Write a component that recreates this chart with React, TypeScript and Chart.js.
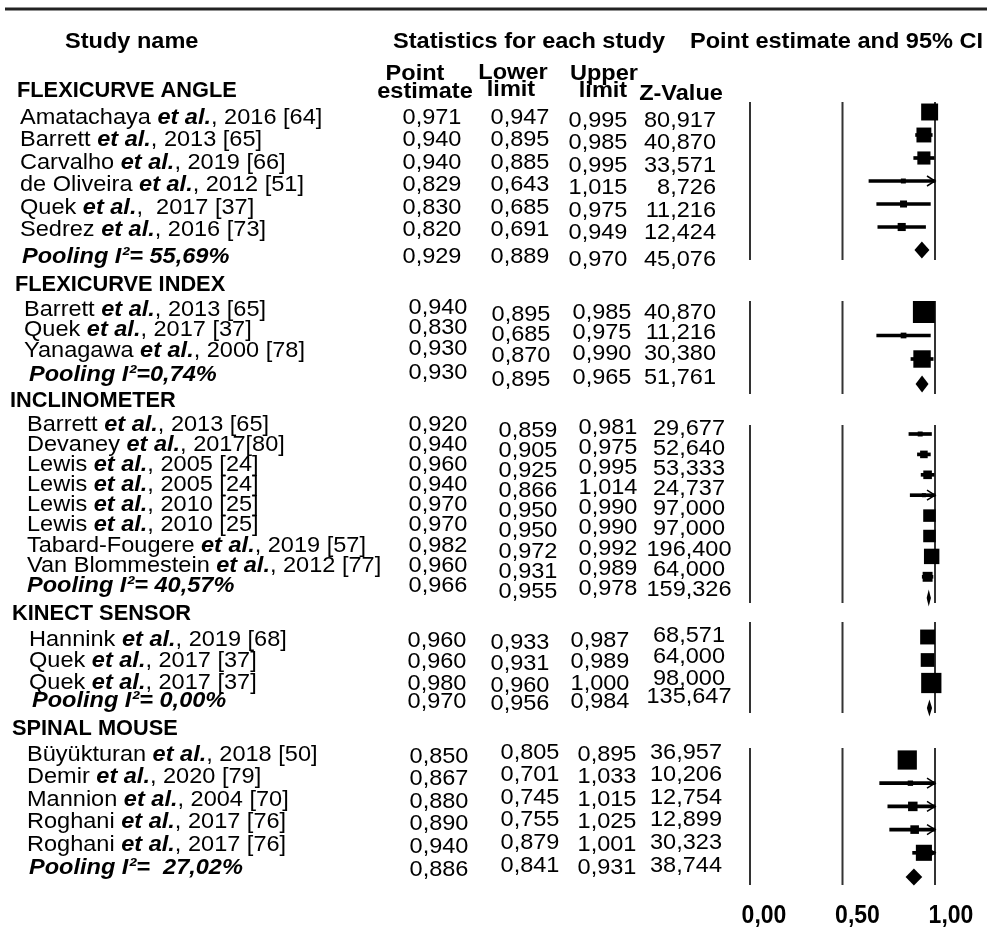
import React, { useEffect, useRef } from "react";
import { Chart, registerables } from "chart.js";
Chart.register(...registerables);

// ---------------- data ----------------
const GROUP_NAMES = ["FLEXICURVE ANGLE", "FLEXICURVE INDEX", "INCLINOMETER", "KINECT SENSOR", "SPINAL MOUSE"];
const STUDY_GROUP = [0, 0, 0, 0, 0, 0, 1, 1, 1, 2, 2, 2, 2, 2, 2, 2, 2, 3, 3, 3, 4, 4, 4, 4, 4];
const STUDY_AUTHOR = [
  "Amatachaya", "Barrett", "Carvalho", "de Oliveira", "Quek", "Sedrez",
  "Barrett", "Quek", "Yanagawa",
  "Barrett", "Devaney", "Lewis", "Lewis", "Lewis", "Lewis", "Tabard-Fougere", "Van Blommestein",
  "Hannink", "Quek", "Quek",
  "Büyükturan", "Demir", "Mannion", "Roghani", "Roghani",
];
const STUDY_CITE = [
  ", 2016 [64]", ", 2013 [65]", ", 2019 [66]", ", 2012 [51]", ",  2017 [37]", ", 2016 [73]",
  ", 2013 [65]", ", 2017 [37]", ", 2000 [78]",
  ", 2013 [65]", ", 2017[80]", ", 2005 [24]", ", 2005 [24]", ", 2010 [25]", ", 2010 [25]", ", 2019 [57]", ", 2012 [77]",
  ", 2019 [68]", ", 2017 [37]", ", 2017 [37]",
  ", 2018 [50]", ", 2020 [79]", ", 2004 [70]", ", 2017 [76]", ", 2017 [76]",
];
const POINT_EST = [0.971, 0.94, 0.94, 0.829, 0.83, 0.82, 0.94, 0.83, 0.93, 0.92, 0.94, 0.96, 0.94, 0.97, 0.97, 0.982, 0.96, 0.96, 0.96, 0.98, 0.85, 0.867, 0.88, 0.89, 0.94];
const LOWER = [0.947, 0.895, 0.885, 0.643, 0.685, 0.691, 0.895, 0.685, 0.87, 0.859, 0.905, 0.925, 0.866, 0.95, 0.95, 0.972, 0.931, 0.933, 0.931, 0.96, 0.805, 0.701, 0.745, 0.755, 0.879];
const UPPER = [0.995, 0.985, 0.995, 1.015, 0.975, 0.949, 0.985, 0.975, 0.99, 0.981, 0.975, 0.995, 1.014, 0.99, 0.99, 0.992, 0.989, 0.987, 0.989, 1.0, 0.895, 1.033, 1.015, 1.025, 1.001];
const Z_VALUE = [80.917, 40.87, 33.571, 8.726, 11.216, 12.424, 40.87, 11.216, 30.38, 29.677, 52.64, 53.333, 24.737, 97.0, 97.0, 196.4, 64.0, 68.571, 64.0, 98.0, 36.957, 10.206, 12.754, 12.899, 30.323];
// relative weights (%)
const WEIGHT = [35, 27, 21, 3, 6, 8, 59, 4, 37, 3, 7, 9, 2, 19, 19, 29, 12, 27, 23, 50, 45, 3.5, 11, 9, 31.5];

const POOLED_LABEL = ["Pooling I²= 55,69%", "Pooling I²=0,74%", "Pooling I²= 40,57%", "Pooling I²= 0,00%", "Pooling I²=  27,02%"];
const POOLED_EST = [0.929, 0.93, 0.966, 0.97, 0.886];
const POOLED_LOWER = [0.889, 0.895, 0.955, 0.956, 0.841];
const POOLED_UPPER = [0.97, 0.965, 0.978, 0.984, 0.931];
const POOLED_Z = [45.076, 51.761, 159.326, 135.647, 38.744];

const X_TICKS = [0, 0.5, 1];
const X_TICK_LABELS = ["0,00", "0,50", "1,00"];
const REF_LINES = [0, 0.5, 1];
const X_CLIP = 1;

// ---------------- layout (positions / styles) ----------------
const W = 987;
const H = 929;
const FONT = '"Liberation Sans", Arial, Helvetica, sans-serif';
const PLOT_ZERO_PX = 750;
const PLOT_UNIT_PX = 185;
const LAB_ZERO_PX = 764;
const LAB_UNIT_PX = 187;
const TICK_Y = 913;
const BOX_K = 2.865;
const DIAMOND_H = 17;

const GROUP_LAYOUT = [
  { headX: 17, headY: 89, nameX: 20, poolX: 22, textY0: 116, textStep: 22.4, poolTextY: 255,
    markY0: 112, markStep: 23, poolMarkY: 250, lineTop: 102, lineBottom: 260,
    colX: [432, 520, 598, 716], colAlign: ["center", "center", "center", "right"], colDy: [0, 0, 3, 3] },
  { headX: 15, headY: 283, nameX: 24, poolX: 29, textY0: 308, textStep: 20.5, poolTextY: 373,
    markY0: 312, markStep: 23.5, poolMarkY: 384, lineTop: 301, lineBottom: 394,
    colX: [438, 521, 602, 716], colAlign: ["center", "center", "center", "right"], colDy: [-2, 5, 3, 3] },
  { headX: 10, headY: 399, nameX: 27, poolX: 27, textY0: 423, textStep: 20.1, poolTextY: 584,
    markY0: 434, markStep: 20.4, poolMarkY: 598, lineTop: 425, lineBottom: 603,
    colX: [438, 528, 608, 689], colAlign: ["center", "center", "center", "center"], colDy: [0, 6, 3, 4] },
  { headX: 12, headY: 612, nameX: 29, poolX: 32, textY0: 638, textStep: 21.5, poolTextY: 699,
    markY0: 637, markStep: 23, poolMarkY: 708, lineTop: 622, lineBottom: 713,
    colX: [437, 520, 600, 689], colAlign: ["center", "center", "center", "center"], colDy: [1, 3, 1, -4] },
  { headX: 12, headY: 727, nameX: 27, poolX: 29, textY0: 753, textStep: 22.5, poolTextY: 866,
    markY0: 760, markStep: 23.2, poolMarkY: 877, lineTop: 748, lineBottom: 885,
    colX: [439, 530, 607, 722], colAlign: ["center", "center", "center", "right"], colDy: [2, -2, 0, -2] },
];

type TStyle = { size: number; weight: string; italic?: boolean; sx: number; sy: number };
const ST_HEAD: TStyle = { size: 22, weight: "bold", sx: 1.07, sy: 1 };
const ST_GROUP: TStyle = { size: 22, weight: "bold", sx: 0.99, sy: 1 };
const ST_BODY: TStyle = { size: 22, weight: "normal", sx: 1.07, sy: 1 };
const ST_ETAL: TStyle = { size: 22, weight: "bold", italic: true, sx: 1.07, sy: 1 };
const ST_AXIS: TStyle = { size: 23, weight: "bold", sx: 1, sy: 1.15 };

const HEADER_TEXTS: [string, number, number, string][] = [
  ["Study name", 65, 40, "left"],
  ["Statistics for each study", 393, 40, "left"],
  ["Point estimate and 95% CI", 690, 40, "left"],
  ["Point", 415, 72, "center"],
  ["estimate", 425, 90, "center"],
  ["Lower", 513, 71, "center"],
  ["limit", 511, 88, "center"],
  ["Upper", 604, 72, "center"],
  ["limit", 603, 89, "center"],
  ["Z-Value", 681, 92, "center"],
];

const fmt = (v: number) => v.toFixed(3).replace(".", ",");

function drawText(ctx: CanvasRenderingContext2D, s: string, x: number, yc: number, st: TStyle, align = "left") {
  ctx.save();
  ctx.font = `${st.italic ? "italic " : ""}${st.weight} ${st.size}px ${FONT}`;
  const w = ctx.measureText(s).width * st.sx;
  const x0 = align === "center" ? x - w / 2 : align === "right" ? x - w : x;
  ctx.translate(x0, yc + 0.36 * st.size * st.sy);
  ctx.scale(st.sx, st.sy);
  ctx.textAlign = "left";
  ctx.textBaseline = "alphabetic";
  ctx.fillStyle = "#000";
  ctx.fillText(s, 0, 0);
  ctx.restore();
  return w;
}

export default function App() {
  const ref = useRef<HTMLCanvasElement>(null);

  useEffect(() => {
    const canvas = ref.current;
    if (!canvas) return;

    const groupStudies = GROUP_NAMES.map((_, g) =>
      STUDY_GROUP.map((sg, i) => (sg === g ? i : -1)).filter((i) => i >= 0)
    );
    const markY = (i: number) => {
      const g = STUDY_GROUP[i];
      const L = GROUP_LAYOUT[g];
      return L.markY0 + groupStudies[g].indexOf(i) * L.markStep;
    };
    const textY = (i: number) => {
      const g = STUDY_GROUP[i];
      const L = GROUP_LAYOUT[g];
      return L.textY0 + groupStudies[g].indexOf(i) * L.textStep;
    };

    const squares = STUDY_GROUP.map((_, i) => ({ x: POINT_EST[i], y: markY(i) }));
    const radii = WEIGHT.map((w) => (BOX_K * Math.sqrt(w)) / Math.SQRT2);
    const ciBars = STUDY_GROUP.map((_, i) => ({ y: markY(i), x: [LOWER[i], Math.min(UPPER[i], X_CLIP)] }));

    const refSets: any[] = [];
    GROUP_LAYOUT.forEach((L) =>
      REF_LINES.forEach((v) =>
        refSets.push({
          type: "line",
          data: [{ x: v, y: L.lineTop }, { x: v, y: L.lineBottom }],
          borderColor: "#333",
          borderWidth: 2,
          pointRadius: 0,
          fill: false,
          xAxisID: "x",
          yAxisID: "y",
          order: 3,
        })
      )
    );

    const forestPlugin = {
      id: "forest",
      beforeDraw(chart: any) {
        const c = chart.ctx;
        c.save();
        c.fillStyle = "#fff";
        c.fillRect(0, 0, chart.width, chart.height);
        c.restore();
      },
      afterDatasetsDraw(chart: any) {
        const c: CanvasRenderingContext2D = chart.ctx;
        const xs = chart.scales.x;
        const ys = chart.scales.y;
        c.save();
        // arrows for clipped intervals
        STUDY_GROUP.forEach((_, i) => {
          if (UPPER[i] > X_CLIP) {
            const x1 = xs.getPixelForValue(X_CLIP);
            const y = ys.getPixelForValue(markY(i));
            c.beginPath();
            c.moveTo(x1 - 8, y - 5);
            c.lineTo(x1, y);
            c.lineTo(x1 - 8, y + 5);
            c.lineWidth = 1.5;
            c.strokeStyle = "#000";
            c.stroke();
          }
        });
        // pooled diamonds
        GROUP_LAYOUT.forEach((L, g) => {
          const y = ys.getPixelForValue(L.poolMarkY);
          const xl = xs.getPixelForValue(POOLED_LOWER[g]);
          const xm = xs.getPixelForValue(POOLED_EST[g]);
          const xu = xs.getPixelForValue(POOLED_UPPER[g]);
          c.beginPath();
          c.moveTo(xl, y);
          c.lineTo(xm, y - DIAMOND_H / 2);
          c.lineTo(xu, y);
          c.lineTo(xm, y + DIAMOND_H / 2);
          c.closePath();
          c.fillStyle = "#000";
          c.fill();
        });
        c.restore();
      },
      afterDraw(chart: any) {
        const c: CanvasRenderingContext2D = chart.ctx;
        const ys = chart.scales.y;
        const xl = chart.scales.xLab;
        const py = (v: number) => ys.getPixelForValue(v);
        // top rule
        c.save();
        c.beginPath();
        c.moveTo(5, py(9));
        c.lineTo(W, py(9));
        c.lineWidth = 3;
        c.strokeStyle = "#222";
        c.stroke();
        c.restore();

        HEADER_TEXTS.forEach(([s, x, y, a]) => drawText(c, s, x, py(y), ST_HEAD, a));

        GROUP_NAMES.forEach((gname, g) => {
          const L = GROUP_LAYOUT[g];
          drawText(c, gname, L.headX, py(L.headY), ST_GROUP);
          groupStudies[g].forEach((i) => {
            const y = py(textY(i));
            let x = L.nameX;
            x += drawText(c, STUDY_AUTHOR[i] + " ", x, y, ST_BODY);
            x += drawText(c, "et al.", x, y, ST_ETAL);
            drawText(c, STUDY_CITE[i], x, y, ST_BODY);
            const vals = [POINT_EST[i], LOWER[i], UPPER[i], Z_VALUE[i]];
            vals.forEach((v, k) => drawText(c, fmt(v), L.colX[k], y + L.colDy[k], ST_BODY, L.colAlign[k]));
          });
          const yp = py(L.poolTextY);
          drawText(c, POOLED_LABEL[g], L.poolX, yp, ST_ETAL);
          const pv = [POOLED_EST[g], POOLED_LOWER[g], POOLED_UPPER[g], POOLED_Z[g]];
          pv.forEach((v, k) => drawText(c, fmt(v), L.colX[k], yp + L.colDy[k], ST_BODY, L.colAlign[k]));
        });

        X_TICKS.forEach((t, k) => drawText(c, X_TICK_LABELS[k], xl.getPixelForValue(t), py(TICK_Y), ST_AXIS, "center"));
      },
    };

    const chart = new Chart(canvas, {
      type: "scatter",
      data: {
        datasets: [
          {
            type: "scatter",
            data: squares,
            pointStyle: "rect",
            pointRadius: radii,
            pointHoverRadius: radii,
            backgroundColor: "#000",
            borderWidth: 0,
            xAxisID: "x",
            yAxisID: "y",
            order: 0,
          } as any,
          {
            type: "bar",
            indexAxis: "y",
            data: ciBars,
            barThickness: 3,
            backgroundColor: "#000",
            borderWidth: 0,
            xAxisID: "x",
            yAxisID: "y",
            order: 1,
          } as any,
          ...refSets,
        ],
      },
      options: {
        responsive: false,
        maintainAspectRatio: false,
        animation: false,
        devicePixelRatio: 1,
        events: [],
        layout: { padding: 0, autoPadding: false },
        plugins: { legend: { display: false }, tooltip: { enabled: false }, title: { display: false } },
        scales: {
          x: {
            type: "linear",
            axis: "x",
            display: false,
            offset: false,
            bounds: "data",
            min: -PLOT_ZERO_PX / PLOT_UNIT_PX,
            max: (W - PLOT_ZERO_PX) / PLOT_UNIT_PX,
          },
          xLab: {
            type: "linear",
            axis: "x",
            position: "bottom",
            display: false,
            offset: false,
            bounds: "data",
            min: -LAB_ZERO_PX / LAB_UNIT_PX,
            max: (W - LAB_ZERO_PX) / LAB_UNIT_PX,
          },
          y: {
            type: "linear",
            axis: "y",
            display: false,
            offset: false,
            bounds: "data",
            reverse: true,
            min: 0,
            max: H,
          },
        } as any,
      },
      plugins: [forestPlugin],
    } as any);

    return () => chart.destroy();
  }, []);

  return (
    <div style={{ position: "fixed", left: 0, top: 0, width: W, height: H, background: "#fff" }}>
      <canvas ref={ref} width={W} height={H} style={{ display: "block", width: W, height: H }} />
    </div>
  );
}
